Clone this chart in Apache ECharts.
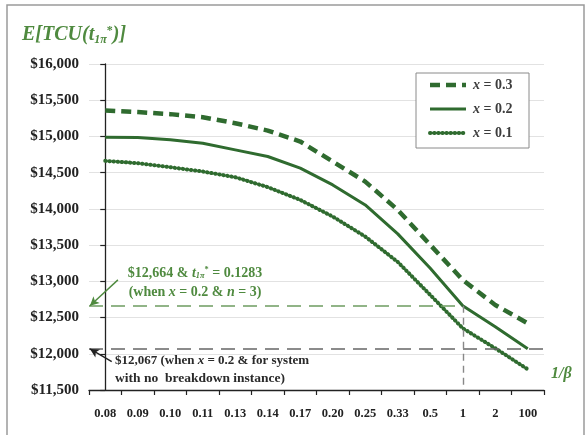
<!DOCTYPE html>
<html><head><meta charset="utf-8">
<script src="https://cdn.jsdelivr.net/npm/echarts@6/dist/echarts.min.js"></script>
<style>html,body{margin:0;padding:0;background:#fff}#c{width:587px;height:435px}</style>
</head><body><div id="c"></div>
<script>
// 1/beta categories (x-axis tick labels)
const categories = ['0.08','0.09','0.10','0.11','0.13','0.14','0.17','0.20','0.25','0.33','0.5','1','2','100'];
// E[TCU] for each x
const x03 = [15358,15336,15308,15266,15183,15081,14930,14653,14377,13986,13503,13019,12674,12421];
const x02 = [14990,14985,14953,14907,14815,14723,14562,14331,14055,13655,13180,12664,12374,12070];
const x01 = [14663,14631,14575,14516,14437,14300,14124,13894,13618,13268,12812,12352,12076,11786];
// reference levels
const refOpt = 12664;       // x=0.2 & n=3
const refNoBreak = 12067;   // no breakdown
const refCategory = '1';
const yMin = 11500, yMax = 16000, yStep = 500;

const G = '#2f6b2f';
const GL = '#4f8a3f';
const SERIF = '"Liberation Serif","Times New Roman",serif';
const refIdx = categories.indexOf(refCategory);

function rich(size, color, extra) {
  const base = {fontFamily: SERIF, fontWeight: 'bold', fontSize: size, fill: color, fontStyle: 'normal'};
  return Object.assign({
    n: Object.assign({}, base),
    i: Object.assign({}, base, {fontStyle: 'italic'}),
    sub: Object.assign({}, base, {fontStyle: 'italic', fontSize: size * 0.6, verticalAlign: 'bottom', padding: [size * 0.45, 0, 0, 0]}),
    sup: Object.assign({}, base, {fontSize: size * 0.6, verticalAlign: 'top', padding: [0, 0, size * 0.45, 0]})
  }, extra || {});
}

const chart = echarts.init(document.getElementById('c'), null, {renderer: 'canvas'});
const fmt = v => '$' + v.toLocaleString('en-US');

const legendItems = [
  {label: '0.3', style: {lineWidth: 4.5, lineDash: [10, 6], lineCap: 'butt'}},
  {label: '0.2', style: {lineWidth: 3, lineDash: null}},
  {label: '0.1', style: {lineWidth: 4, lineDash: [0.5, 3.6], lineCap: 'round'}}
];
const legendGraphics = [];
legendItems.forEach((it, k) => {
  const y = 85 + k * 24;
  legendGraphics.push({type: 'line', shape: {x1: 430, y1: y, x2: 466, y2: y},
    style: Object.assign({stroke: G}, it.style), silent: true});
  legendGraphics.push({type: 'text', x: 473, y: y, style: {
    text: '{i|x} = ' + it.label, rich: rich(14, '#3d3d3d'), verticalAlign: 'middle',
    fontFamily: SERIF, fontWeight: 'bold', fontSize: 14, fill: '#3d3d3d'}, silent: true});
});

chart.setOption({
  animation: false,
  backgroundColor: '#fff',
  grid: {left: 89, right: 43, top: 64, bottom: 45, containLabel: false},
  xAxis: [{
    type: 'category', data: categories, boundaryGap: true,
    axisLine: {lineStyle: {color: '#222', width: 1.3}},
    axisTick: {show: true, length: 5, lineStyle: {color: '#222', width: 1.2}},
    axisLabel: {margin: 17, fontFamily: SERIF, fontWeight: 'bold', fontSize: 12.5, color: '#222'},
    splitLine: {show: false}
  }, {
    type: 'value', min: -0.5, max: categories.length - 0.5, show: false
  }],
  yAxis: {
    type: 'value', min: yMin, max: yMax, interval: yStep,
    axisLine: {show: true, lineStyle: {color: '#222', width: 1.3}},
    axisTick: {show: true, length: 5, lineStyle: {color: '#222', width: 1.2}},
    axisLabel: {margin: 10, formatter: fmt, fontFamily: SERIF, fontWeight: 'bold', fontSize: 15, color: '#222'},
    splitLine: {lineStyle: {color: '#e2e2e2', width: 1}}
  },
  series: [
    {type: 'line', name: 'x = 0.3', xAxisIndex: 1, symbol: 'none', silent: true,
     data: x03.map((v, i) => [i, v]),
     lineStyle: {color: G, width: 4.5, type: [10, 6], cap: 'butt'}},
    {type: 'line', name: 'x = 0.2', xAxisIndex: 1, symbol: 'none', silent: true,
     data: x02.map((v, i) => [i, v]),
     lineStyle: {color: G, width: 3}, z: 3,
     markLine: {silent: true, symbol: 'none', animation: false, label: {show: false},
       data: [
         [{coord: [-0.5, refOpt], lineStyle: {color: '#6e9c60', width: 1.6, type: [14, 8]}}, {coord: [refIdx, refOpt]}],
         [{coord: [-0.5, refNoBreak], lineStyle: {color: '#666', width: 1.6, type: [14, 8]}}, {coord: [categories.length - 0.5, refNoBreak]}],
         [{coord: [refIdx, refOpt], lineStyle: {color: '#888', width: 1.4, type: [7, 5]}}, {coord: [refIdx, yMin]}]
       ]}},
    {type: 'line', name: 'x = 0.1', xAxisIndex: 1, symbol: 'none', silent: true,
     data: x01.map((v, i) => [i, v]),
     lineStyle: {color: G, width: 4, type: [0.5, 3.6], cap: 'round'},
     markLine: {silent: true, animation: false, label: {show: false}, symbolSize: [7, 9],
       data: [
         [{coord: [0.39, 13020], symbol: 'none', lineStyle: {color: '#4f8a3f', width: 1.4, type: 'solid'}},
          {coord: [-0.47, refOpt], symbol: 'arrow'}],
         [{coord: [0.2, 11891], symbol: 'none', lineStyle: {color: '#222', width: 1.4, type: 'solid'}},
          {coord: [-0.47, refNoBreak], symbol: 'arrow'}]
       ]}}
  ],
  graphic: [
    {type: 'rect', shape: {x: 7, y: 5, width: 577, height: 440}, style: {fill: 'none', stroke: '#9a9a9a', lineWidth: 1.5}, silent: true},
    {type: 'text', x: 22, y: 35, style: {
      text: '{i|E[TCU(t}{sub|1π}{sup|*}{i|)]}', rich: rich(20, GL), verticalAlign: 'middle',
      fontFamily: SERIF, fontWeight: 'bold', fontSize: 20, fill: GL}, silent: true},
    {type: 'rect', shape: {x: 416, y: 73, width: 113, height: 75}, style: {fill: '#fff', stroke: '#8a8a8a', lineWidth: 1}, silent: true, z: 10},
    ...legendGraphics.map(g => Object.assign(g, {z: 11})),
    {type: 'text', x: 195, y: 273, style: {
      text: '$12,664 & {i|t}{sub|1π}{sup|*} = 0.1283', rich: rich(14, GL), align: 'center', verticalAlign: 'middle',
      fontFamily: SERIF, fontWeight: 'bold', fontSize: 14, fill: GL}, silent: true},
    {type: 'text', x: 195, y: 292, style: {
      text: '(when {i|x} = 0.2 & {i|n} = 3)', rich: rich(14, GL), align: 'center', verticalAlign: 'middle',
      fontFamily: SERIF, fontWeight: 'bold', fontSize: 14, fill: GL}, silent: true},
    {type: 'text', x: 115, y: 361, style: {
      text: '$12,067 (when {i|x} = 0.2 & for system', rich: rich(13, '#2a2a2a'), verticalAlign: 'middle',
      fontFamily: SERIF, fontWeight: 'bold', fontSize: 13, fill: '#2a2a2a'}, silent: true},
    {type: 'text', x: 115, y: 379, style: {
      text: 'with no  breakdown instance)', verticalAlign: 'middle',
      fontFamily: SERIF, fontWeight: 'bold', fontSize: 13.5, fill: '#2a2a2a'}, silent: true},
    {type: 'text', x: 551, y: 374, style: {
      text: '1/β', verticalAlign: 'middle',
      fontFamily: SERIF, fontWeight: 'bold', fontStyle: 'italic', fontSize: 16, fill: GL}, silent: true}
  ]
});
</script></body></html>
